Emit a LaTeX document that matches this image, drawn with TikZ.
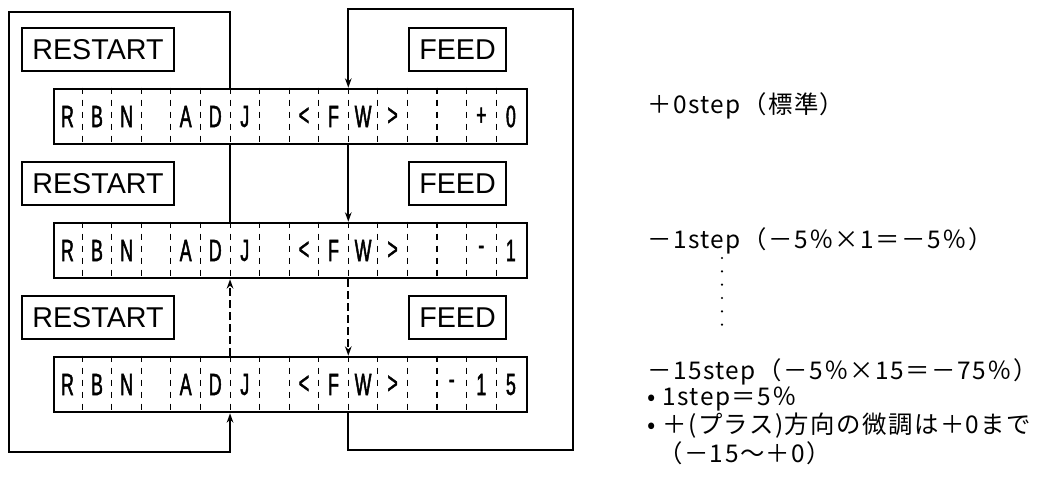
\documentclass[tikz,border=0pt]{standalone}
\usepackage{fontspec}
\setmainfont{Liberation Sans}
\newfontfamily\jpfont[LetterSpace=6]{Noto Sans CJK JP}
\newfontfamily\lcdfont[FakeStretch=0.58,FakeBold=1.5]{Liberation Sans}
\usetikzlibrary{positioning,arrows.meta,calc}

\begin{document}
\begin{tikzpicture}[x=0.75pt,y=-0.75pt,
  lcd/.style={draw=black,line width=2pt,minimum width=354.75pt,minimum height=41.25pt,inner sep=0pt},
  cellsep/.style={line width=0.8pt,dash pattern=on 5pt off 4pt},
  ch/.style={font=\lcdfont\fontsize{23}{23}\selectfont,inner sep=0pt},
  btn/.style={draw=black,line width=1.8pt,minimum height=32.25pt,inner sep=0pt,font=\fontsize{21.5}{22}\selectfont},
  note/.style={anchor=west,inner sep=0pt,font=\jpfont\fontsize{18.3}{20}\selectfont},
  wire/.style={line width=1.8pt},
  ar/.style={wire,-{Stealth[length=7pt,width=5pt]}},
  dwire/.style={dash pattern=on 6pt off 3pt}]
  \useasboundingbox (0,0) rectangle (1056,484);
  % LCD panels
  \node[lcd] (lcd1) at (290.5,116.5) {};
  \node[lcd] (lcd2) at ($(lcd1)+(0,134)$) {};
  \node[lcd] (lcd3) at ($(lcd2)+(0,134)$) {};
  \foreach \p in {lcd1,lcd2,lcd3}
    \foreach \i in {1,...,15}
      \draw[cellsep] ($(\p.north west)+(\i*29.5625,0)$) -- ($(\p.south west)+(\i*29.5625,0)$);
  \foreach \c [count=\i] in {R,B,N,{},A,D,J,{},<,F,W,>,{},{},+,0}
    \node[ch] (a\i) at ($(lcd1.west)+(\i*29.5625-14.78,0)$) {\c};
  \foreach \c [count=\i] in {R,B,N,{},A,D,J,{},<,F,W,>,{},{},-,1}
    \node[ch] (b\i) at ($(lcd2.west)+(\i*29.5625-14.78,0)$) {\c};
  \foreach \c [count=\i] in {R,B,N,{},A,D,J,{},<,F,W,>,{},-,1,5}
    \node[ch] (c\i) at ($(lcd3.west)+(\i*29.5625-14.78,0)$) {\c};
  % buttons
  \node[btn,minimum width=114pt] (rs1) at (98,49.5) {RESTART};
  \node[btn,minimum width=114pt] (rs2) at ($(rs1)+(0,134)$) {RESTART};
  \node[btn,minimum width=114pt] (rs3) at ($(rs2)+(0,134)$) {RESTART};
  \node[btn,minimum width=72.75pt] (fd1) at (457.5,49.5) {FEED};
  \node[btn,minimum width=72.75pt] (fd2) at ($(fd1)+(0,134)$) {FEED};
  \node[btn,minimum width=72.75pt] (fd3) at ($(fd2)+(0,134)$) {FEED};
  % loop corners
  \coordinate (lj) at ($(lcd1.north west)+(6*29.5625,0)$);
  \coordinate (rf) at ($(lcd1.north west)+(10*29.5625,0)$);
  \coordinate (ltl) at (9,12);
  \coordinate (lbl) at (9,452);
  \coordinate (rtr) at (573,9);
  \coordinate (rbr) at (573,450);
  % RESTART path
  \draw[ar] (lcd1.north -| lj) -- (lj |- ltl) -- (ltl) -- (lbl) -- (lj |- lbl) -- (lcd3.south -| lj);
  \draw[wire] (lcd2.north -| lj) -- (lcd1.south -| lj);
  \draw[ar,dwire] (lcd3.north -| lj) -- (lcd2.south -| lj);
  % FEED path
  \draw[ar] (lcd3.south -| rf) -- (rf |- rbr) -- (rbr) -- (rtr) -- (rf |- rtr) -- (lcd1.north -| rf);
  \draw[ar] (lcd1.south -| rf) -- (lcd2.north -| rf);
  \draw[ar,dwire] (lcd2.south -| rf) -- (lcd3.north -| rf);
  % notes
  \node[note] (t0) at (647,106) {＋0step（標準）};
  \node[note] (t1) at (647,241) {－1step（－5％×1＝－5％）};
  \node[note] (t15) at (647,372) {－15step（－5％×15＝－75％）};
  \node[note] (n1) at (647,399) {•\ 1step＝5％};
  \node[note] (n2) at (647,426) {•\ ＋(プラス)方向の微調は＋0まで};
  \node[note] (n3) at (658,453) {（－15〜＋0）};
  \coordinate (dtop) at (722,258);
  \coordinate (dbot) at (722,338);
  \draw[line width=1.8pt,line cap=round,dash pattern=on 0pt off 10pt] (dtop) -- (dbot);
\end{tikzpicture}
\end{document}
